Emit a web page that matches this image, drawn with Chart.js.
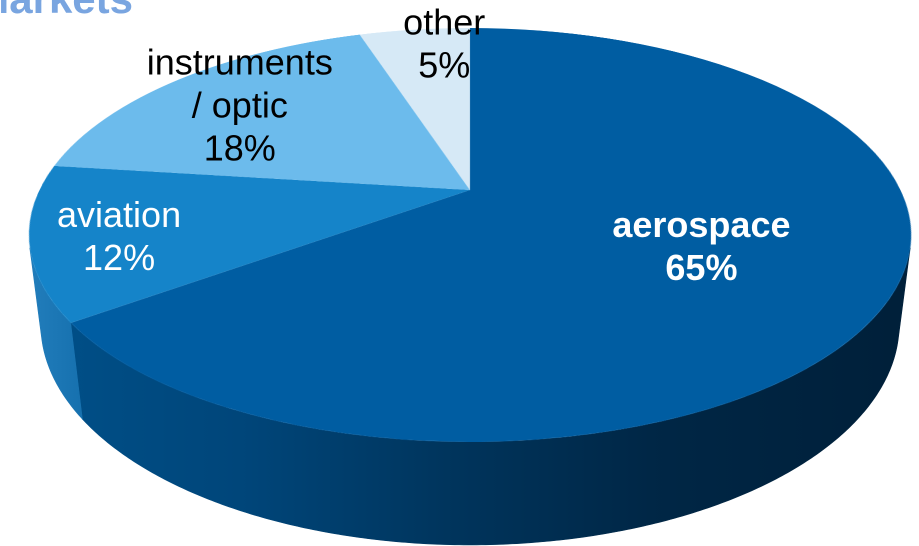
<!DOCTYPE html>
<html>
<head>
<meta charset="utf-8">
<title>Markets</title>
<script src="https://cdn.jsdelivr.net/npm/chart.js@4.4.1/dist/chart.umd.min.js"></script>
<style>
  html, body { margin: 0; padding: 0; background: #ffffff; overflow: hidden; }
  #wrap { position: relative; width: 919px; height: 546px; }
  canvas { display: block; }
</style>
</head>
<body>
<div id="wrap"><canvas id="pie" width="919" height="546" style="width:919px;height:546px"></canvas></div>
<script>
// Market split by segment (percent)
const segments = ['aerospace', 'aviation', 'instruments / optic', 'other'];
const segmentLines = [['aerospace'], ['aviation'], ['instruments', '/ optic'], ['other']];
const shares = [65, 12, 18, 5];
const chartTitle = 'Markets';

// Styling
const topColors = ['#005DA2', '#1584C9', '#6CBBEC', '#D6E9F6'];
const labelColors = ['#ffffff', '#ffffff', '#000000', '#000000'];
const labelBold = [true, false, false, false];
// where each label sits inside its slice: fraction along the slice angle, fraction of radius
const labelPlacement = [
  { frac: 0.525, r: 0.595 },
  { frac: 0.37, r: 0.815 },
  { frac: 0.421, r: 0.705 },
  { frac: 0.72, r: 0.80 }
];
const FONT = '"Liberation Sans", Arial, "DejaVu Sans", sans-serif';

// Perspective view of the disc: screen centre, half width, half depth scale, foreshortening, thickness
const VIEW = { cx: 470, cy: 190, A: 430.5, B: 197.2, k: 0.2174, thickness: 0.235 };
const sinA = VIEW.B / VIEW.A;
const cosA = Math.sqrt(1 - sinA * sinA);
const D0 = cosA / VIEW.k;
const FOCAL = VIEW.A * D0;

// u: right, v: toward the viewer (unit radius), hgt: 0 on the top face, negative below
function project(u, v, hgt) {
  const z = -v;
  const depth = D0 - hgt * sinA + z * cosA;
  const up = hgt * cosA + z * sinA;
  return [VIEW.cx + FOCAL * u / depth, VIEW.cy - FOCAL * up / depth];
}

function wallFill(ctx, i) {
  let g;
  if (i === 0) {
    g = ctx.createLinearGradient(80, 0, 900, 0);
    g.addColorStop(0, 'rgb(0,78,134)');
    g.addColorStop(0.2, 'rgb(0,70,122)');
    g.addColorStop(0.45, 'rgb(0,53,93)');
    g.addColorStop(0.7, 'rgb(0,39,70)');
    g.addColorStop(1, 'rgb(0,32,58)');
  } else if (i === 1) {
    g = ctx.createLinearGradient(28, 0, 85, 0);
    g.addColorStop(0, 'rgb(34,126,188)');
    g.addColorStop(1, 'rgb(22,112,174)');
  } else if (i === 2) {
    g = 'rgb(80,160,210)';
  } else {
    g = 'rgb(180,205,225)';
  }
  return g;
}

// Turns the flat pie drawn by Chart.js into a tilted, extruded disc
const tiltPlugin = {
  id: 'tilt',
  afterDatasetsDraw(chart) {
    const meta = chart.getDatasetMeta(0);
    if (!meta || !meta.data.length) return;
    const ctx = chart.ctx;
    const canvas = chart.canvas;
    const dpr = chart.currentDevicePixelRatio || 1;
    const arc0 = meta.data[0];
    const scx = arc0.x, scy = arc0.y, R = arc0.outerRadius;

    // keep a copy of the flat pie
    const off = document.createElement('canvas');
    off.width = canvas.width;
    off.height = canvas.height;
    off.getContext('2d').drawImage(canvas, 0, 0);

    ctx.save();
    ctx.setTransform(1, 0, 0, 1, 0, 0);
    ctx.clearRect(0, 0, canvas.width, canvas.height);
    ctx.restore();

    // side walls (front half, between the silhouette generators)
    const ts1 = Math.asin(Math.min(1, 1 / (D0 * cosA)));
    const ts2 = Math.PI - ts1;
    const h = -VIEW.thickness;
    ctx.save();
    meta.data.forEach((arc, i) => {
      for (const shift of [0, -2 * Math.PI, 2 * Math.PI]) {
        const a0 = Math.max(arc.startAngle + shift, ts1);
        const a1 = Math.min(arc.endAngle + shift, ts2);
        if (a1 <= a0) continue;
        const n = Math.max(8, Math.ceil((a1 - a0) * 120));
        ctx.beginPath();
        for (let j = 0; j <= n; j++) {
          const t = a0 + (a1 - a0) * j / n;
          const p = project(Math.cos(t), Math.sin(t), 0);
          if (j === 0) ctx.moveTo(p[0], p[1]); else ctx.lineTo(p[0], p[1]);
        }
        for (let j = n; j >= 0; j--) {
          const t = a0 + (a1 - a0) * j / n;
          const p = project(Math.cos(t), Math.sin(t), h);
          ctx.lineTo(p[0], p[1]);
        }
        ctx.closePath();
        const fill = wallFill(ctx, i);
        ctx.fillStyle = fill;
        ctx.fill();
        ctx.strokeStyle = fill;
        ctx.lineWidth = 0.6;
        ctx.stroke();
      }
    });
    ctx.restore();

    // top face: each screen row samples one row of the flat pie
    const yTop = project(0, -1, 0)[1];
    const yBot = project(0, 1, 0)[1];
    ctx.save();
    ctx.imageSmoothingEnabled = true;
    ctx.imageSmoothingQuality = 'high';
    for (let yd = Math.floor(yTop * dpr); yd <= Math.ceil(yBot * dpr); yd++) {
      const ys = (yd + 0.5) / dpr;
      const d = ys - VIEW.cy;
      const v = d / (VIEW.B + VIEW.k * d);
      if (v < -1 || v > 1) continue;
      const s = VIEW.A / (1 - VIEW.k * v);
      let srcY = (scy + v * R) * dpr - 0.5;
      srcY = Math.max(0, Math.min(off.height - 1, srcY));
      ctx.drawImage(off, (scx - R) * dpr, srcY, 2 * R * dpr, 1,
                    VIEW.cx - s, yd / dpr, 2 * s, 1 / dpr);
    }
    ctx.restore();
  },
  afterDraw(chart) {
    const meta = chart.getDatasetMeta(0);
    const ctx = chart.ctx;
    ctx.save();
    ctx.textAlign = 'center';
    ctx.textBaseline = 'alphabetic';
    meta.data.forEach((arc, i) => {
      const pl = labelPlacement[i];
      const t = arc.startAngle + pl.frac * (arc.endAngle - arc.startAngle);
      const p = project(pl.r * Math.cos(t), pl.r * Math.sin(t), 0);
      const lines = segmentLines[i].concat([shares[i] + '%']);
      ctx.font = (labelBold[i] ? 'bold ' : '') + '36px ' + FONT;
      ctx.fillStyle = labelColors[i];
      const lh = 43;
      lines.forEach((ln, j) => {
        ctx.fillText(ln, p[0], p[1] + (j - (lines.length - 1) / 2) * lh);
      });
    });
    // heading, partly outside the frame
    ctx.font = 'bold 42px ' + FONT;
    ctx.fillStyle = '#79A5E0';
    ctx.textAlign = 'right';
    ctx.fillText(chartTitle, 133, 13);
    ctx.restore();
  }
};

new Chart(document.getElementById('pie'), {
  type: 'pie',
  data: {
    labels: segments,
    datasets: [{
      data: shares,
      backgroundColor: topColors,
      borderWidth: 0,
      hoverOffset: 0
    }]
  },
  options: {
    responsive: false,
    devicePixelRatio: 2,
    animation: false,
    events: [],
    layout: { padding: 0 },
    plugins: {
      legend: { display: false },
      tooltip: { enabled: false },
      title: { display: false }
    }
  },
  plugins: [tiltPlugin]
});
</script>
</body>
</html>
